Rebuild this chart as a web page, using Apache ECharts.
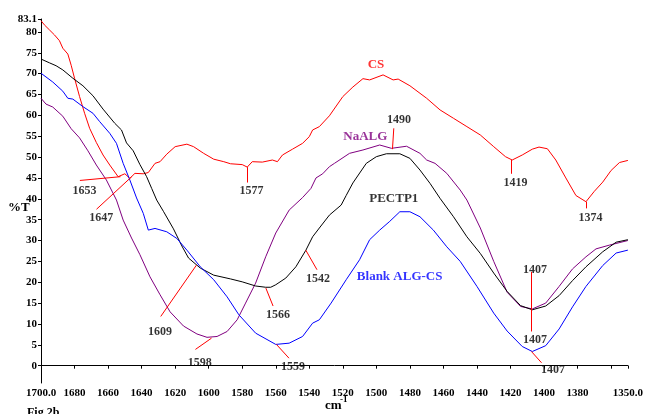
<!DOCTYPE html>
<html>
<head>
<meta charset="utf-8">
<script src="https://cdn.jsdelivr.net/npm/echarts@6/dist/echarts.min.js"></script>
<style>
html,body{margin:0;padding:0;background:#fff;}
#chart{width:646px;height:414px;}
</style>
</head>
<body>
<div id="chart"></div>
<script>
// ---- data ----
const wnCS = [1700,1698,1695,1692,1689,1687,1684,1682,1680,1677,1674,1671,1667,1663,1659,1654,1650,1647,1644,1639,1636,1632,1629,1625,1620,1613,1609,1603,1597,1591,1587,1580,1577,1574,1568,1562,1559,1556,1550,1544,1540,1538,1534,1528,1520,1514,1508,1504,1496,1490,1487,1480,1470,1462,1454,1446,1438,1430,1423,1419,1413,1407,1403,1398,1393,1387,1381,1375,1370,1365,1360,1355,1350];
const tCS = [82.7,81.7,80.5,79.3,77.9,76.1,74.7,72.0,68.9,64.5,60.5,56.9,53.5,50.5,48.1,45.3,46.0,44.9,46.1,46.0,46.3,48.5,48.9,50.7,52.5,53.1,52.5,50.9,49.5,48.9,48.4,48.2,47.6,48.9,48.8,49.3,48.9,50.5,51.9,53.3,54.9,56.5,57.3,59.9,64.5,66.8,68.8,68.5,69.7,68.5,68.7,67.1,64.1,61.3,59.3,57.3,55.3,52.5,50.1,49.3,50.5,51.9,52.4,52.0,49.3,45.0,40.8,39.3,41.8,44.0,46.8,48.7,49.2];

const wnPECT = [1700,1695,1691,1687,1681,1675,1669,1663,1656,1652,1649,1645,1641,1637,1634,1631,1627,1621,1616,1612,1605,1597,1587,1580,1572,1566,1563,1560,1554,1548,1542,1538,1534,1528,1521,1518,1514,1506,1500,1494,1486,1480,1474,1468,1462,1454,1446,1438,1430,1422,1414,1407,1399,1391,1383,1375,1365,1357,1350];
const tPECT = [73.5,72.6,71.9,70.9,68.9,67.1,64.7,61.5,58.1,56.5,53.4,51.5,48.2,45.3,42.5,39.7,37.0,32.8,28.7,25.8,23.4,21.7,20.8,20.1,19.1,18.8,18.8,19.4,21.0,23.7,27.7,30.9,33.0,36.1,38.5,40.8,43.8,48.5,50.1,50.8,50.8,49.7,46.9,43.7,40.1,35.7,30.9,26.9,22.2,17.8,14.4,13.4,14.3,16.8,20.4,23.7,27.3,29.6,30.2];

const wnBlank = [1700,1693,1687,1684,1681,1675,1669,1665,1659,1655,1651,1647,1643,1639,1636,1632,1625,1619,1613,1605,1597,1589,1582,1572,1560,1552,1544,1538,1534,1527,1518,1510,1504,1498,1492,1486,1480,1474,1466,1458,1450,1440,1430,1422,1413,1407,1399,1391,1383,1375,1365,1357,1350];
const tBlank = [70.1,68.0,65.8,64.1,63.9,62.1,60.5,58.5,55.7,53.3,48.5,44.5,40.2,36.5,32.5,32.9,32.1,30.5,27.7,23.7,20.6,16.5,12.2,7.8,5.1,5.4,7.0,10.2,11.0,15.0,20.6,25.4,30.2,32.5,34.6,36.9,36.9,35.7,32.5,28.5,25.0,19.0,12.6,8.3,4.6,3.4,4.8,8.8,14.1,19.0,24.0,27.0,27.7];

const wnNaALG = [1700,1697,1693,1687,1682,1677,1672,1667,1661,1655,1651,1646,1641,1635,1629,1623,1615,1607,1601,1595,1589,1583,1578,1572,1566,1560,1552,1544,1539,1536,1532,1528,1525,1516,1508,1498,1491,1482,1474,1470,1465,1458,1450,1446,1438,1430,1422,1414,1407,1399,1391,1383,1375,1369,1361,1350];
const tNaALG = [64.1,62.7,62.0,59.8,56.8,54.6,51.5,48.1,44.5,39.7,34.9,30.6,26.6,21.3,17.0,12.9,9.5,7.6,6.8,7.0,8.2,11.0,15.0,19.8,26.1,31.8,37.3,40.3,42.5,45.0,46.0,47.7,48.5,50.9,51.7,52.9,52.1,52.6,50.9,49.3,48.5,46.1,42.1,39.7,33.0,25.0,17.6,14.2,13.6,15.0,19.0,23.2,26.1,28.0,28.9,30.0];

const xTickLabels = [1700,1680,1660,1640,1620,1600,1580,1560,1540,1520,1500,1480,1460,1440,1420,1400,1380,1350];
const xTicks = [1700,1680,1660,1640,1620,1600,1580,1560,1540,1520,1500,1480,1460,1440,1420,1400,1380,1360,1350];
const yTickLabels = [0,5,10,15,20,25,30,35,40,45,50,55,60,65,70,75,80,83.1];

// peak annotations: label text, label anchor [wn,%T], leader line from -> to
const peakLabels = ['1653','1647','1577','1609','1598','1566','1559','1542','1490','1419','1374','1407','1407','1407'];
const peakLabelAt = [[1674,42.0],[1664,35.5],[1574.5,42.0],[1629,8.2],[1605.3,0.7],[1558.6,12.2],[1549.7,-0.2],[1534.8,20.7],[1486.5,58.8],[1417,43.9],[1372.3,35.5],[1405.4,23.0],[1405.4,6.2],[1394.6,-1.0]];
const peakLines = [
  [[1676.8,44.4],[1652.6,45.3]],
  [[1666.9,37.5],[1645.9,45.3]],
  [[1577.1,47.6],[1577.1,43.9]],
  [[1628.6,11.8],[1607.3,24.1]],
  [[1607.9,3.9],[1598.3,6.6]],
  [[1565.9,18.6],[1561.6,14.3]],
  [[1559.6,5.1],[1552.1,1.8]],
  [[1542.1,27.7],[1535.4,23.0]],
  [[1489.6,56.9],[1490.4,51.9]],
  [[1419.4,49.3],[1419.4,46.0]],
  [[1374.7,39.3],[1374.7,37.7]],
  [[1407.6,22.5],[1407.6,8.2]],
  [[1407.5,3.4],[1401.5,0.7]]
];
const seriesNames = ['CS','NaALG','PECTP1','Blank ALG-CS'];
const seriesNameAt = [[1500.2,72.1],[1506.6,54.9],[1489.6,40.1],[1486.1,21.3]];
const seriesColors = ['#ff0000','#800080','#000000','#0000ff'];

const zip = (a,b) => a.map((w,i) => [w,b[i]]);
const FONT = 'Liberation Serif';

const chart = echarts.init(document.getElementById('chart'));
const lineSeries = (name, wn, t, color) => ({
  name, type:'line', data: zip(wn,t), showSymbol:false, symbol:'none',
  lineStyle:{color, width:1}, itemStyle:{color}, animation:false, z:3
});

chart.setOption({
  animation:false,
  backgroundColor:'#ffffff',
  grid:{left:41, right:18, top:19, bottom:31, containLabel:false},
  xAxis:{
    type:'value', inverse:true, min:1350, max:1700,
    axisLine:{show:true, lineStyle:{color:'#000', width:1}},
    axisTick:{show:true, length:3, lineStyle:{color:'#000'}, customValues: xTicks},
    axisLabel:{
      customValues: xTickLabels,
      color:'#000', fontFamily:FONT, fontWeight:'bold', fontSize:11, margin:5,
      formatter: v => (v===1700||v===1350) ? v.toFixed(1) : String(v)
    },
    splitLine:{show:false}
  },
  yAxis:{
    type:'value', min:-4.15, max:83.1,
    axisLine:{show:true, lineStyle:{color:'#000', width:1}},
    axisTick:{show:true, length:3, lineStyle:{color:'#000'}, customValues: yTickLabels},
    axisLabel:{
      customValues: yTickLabels,
      color:'#000', fontFamily:FONT, fontWeight:'bold', fontSize:11, margin:4,
      formatter: v => String(v)
    },
    splitLine:{show:false}
  },
  graphic:[
    {type:'text', left:8, top:201, style:{text:'%T', font:'bold 13px "Liberation Serif"', fill:'#000'}},
    {type:'text', left:325, top:399, style:{text:'cm', font:'bold 13px "Liberation Serif"', fill:'#000'}},
    {type:'text', left:340, top:395, style:{text:'-1', font:'bold 9px "Liberation Serif"', fill:'#000'}},
    {type:'text', left:27, top:407, style:{text:'Fig.2b', font:'bold 12px "Liberation Serif"', fill:'#000'}}
  ],
  series:[
    lineSeries('CS', wnCS, tCS, '#ff0000'),
    lineSeries('NaALG', wnNaALG, tNaALG, '#800080'),
    lineSeries('PECTP1', wnPECT, tPECT, '#000000'),
    lineSeries('Blank ALG-CS', wnBlank, tBlank, '#0000ff'),
    {
      type:'lines', coordinateSystem:'cartesian2d', polyline:false, silent:true, z:4,
      lineStyle:{color:'#ff0000', width:1, opacity:1},
      data: peakLines.map(c => ({coords:c}))
    },
    {
      type:'scatter', symbolSize:0, silent:true, z:5,
      data: peakLabels.map((t,i) => ({name:t, value:peakLabelAt[i]})),
      label:{show:true, position:'inside', formatter:p=>p.name, color:'#000',
        fontFamily:FONT, fontWeight:'bold', fontSize:12}
    },
    {
      type:'scatter', symbolSize:0, silent:true, z:5,
      data: seriesNames.map((t,i) => ({name:t, value:seriesNameAt[i],
        label:{color:seriesColors[i]}})),
      label:{show:true, position:'inside', formatter:p=>p.name,
        fontFamily:FONT, fontWeight:'bold', fontSize:13}
    }
  ]
});
</script>
</body>
</html>
